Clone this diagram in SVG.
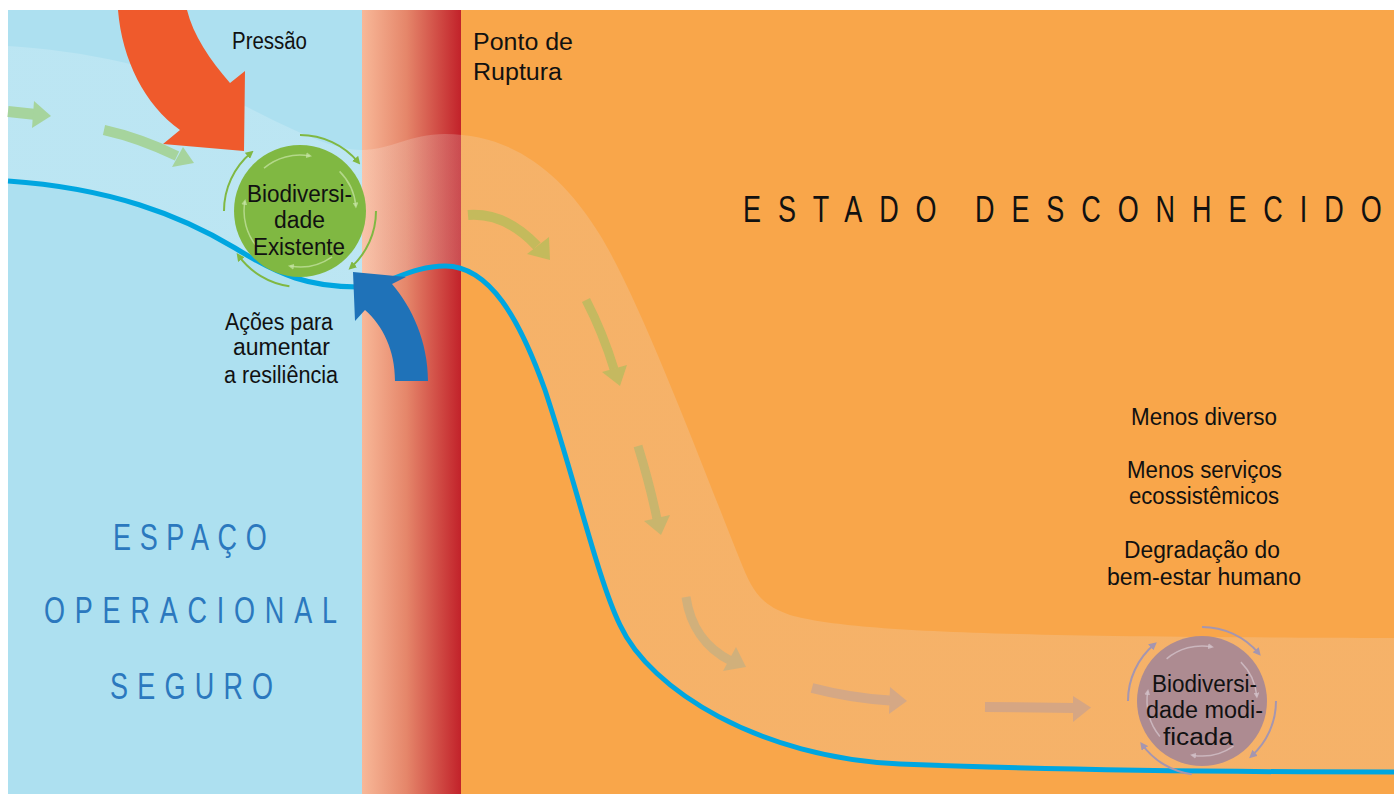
<svg xmlns="http://www.w3.org/2000/svg" width="1394" height="794" viewBox="0 0 1394 794">
<style>
.t{font-family:"Liberation Sans",Arial,sans-serif;font-size:23.5px;fill:#111}
.cap{font-family:"Liberation Sans",Arial,sans-serif;font-size:37.5px}
.bl{fill:#2B78BE}
.og{stroke:#80B842;stroke-width:2;fill:none;marker-end:url(#mg)}
.ig{stroke:#C9E6A8;stroke-opacity:0.7;stroke-width:1.5;fill:none;marker-end:url(#mgi)}
.op{stroke:#A596B0;stroke-width:2;fill:none;marker-end:url(#mp)}
.ip{stroke:#D2C0C8;stroke-opacity:0.8;stroke-width:1.5;fill:none;marker-end:url(#mpi)}
</style>
<defs>
<linearGradient id="red" x1="0" y1="0" x2="1" y2="0">
<stop offset="0" stop-color="#F8B898"/>
<stop offset="0.45" stop-color="#E5866A"/>
<stop offset="1" stop-color="#C2222A"/>
</linearGradient>
<linearGradient id="band" gradientUnits="userSpaceOnUse" x1="362" y1="0" x2="461" y2="0">
<stop offset="0" stop-color="#FFFFFF" stop-opacity="0.18"/>
<stop offset="1" stop-color="#EADDD6" stop-opacity="0.22"/>
</linearGradient>
<marker id="mg" viewBox="0 0 10 10" refX="6" refY="5" markerWidth="8" markerHeight="8" markerUnits="userSpaceOnUse" orient="auto"><path d="M0,0 L10,5 L0,10 z" fill="#80B842"/></marker>
<marker id="mgi" viewBox="0 0 10 10" refX="6" refY="5" markerWidth="6" markerHeight="6" markerUnits="userSpaceOnUse" orient="auto"><path d="M0,0 L10,5 L0,10 z" fill="#C9E6A8" fill-opacity="0.7"/></marker>
<marker id="mp" viewBox="0 0 10 10" refX="6" refY="5" markerWidth="8" markerHeight="8" markerUnits="userSpaceOnUse" orient="auto"><path d="M0,0 L10,5 L0,10 z" fill="#A596B0"/></marker>
<marker id="mpi" viewBox="0 0 10 10" refX="6" refY="5" markerWidth="6" markerHeight="6" markerUnits="userSpaceOnUse" orient="auto"><path d="M0,0 L10,5 L0,10 z" fill="#D2C0C8" fill-opacity="0.8"/></marker>
</defs>

<g id="background">
<rect x="0" y="0" width="1394" height="794" fill="#FFFFFF"/>
<rect x="8" y="10" width="354" height="784" fill="#ADE0F0"/>
<rect x="362" y="10" width="99" height="784" fill="url(#red)"/>
<rect x="461" y="10" width="933" height="784" fill="#F9A64A"/>
<path id="pathway" fill="url(#band)" d="M8,46 C80,50 170,68 233,100 C285,126 330,150 362,150 C390,150 410,134 445,134 C510,134 560,170 600,235 C640,300 700,460 740,560 C752,590 760,605 790,615 C850,632 1000,637 1394,638 L1394,772 C1250,772 1050,770 900,764 C760,758 650,690 620,625 C598,580 575,480 545,390 C520,320 490,266 445,266 C410,266 385,287 358,287 C310,287 280,276 235,248 C180,215 110,188 8,181 Z"/>
</g>

<g id="connectors">
<g id="flow-arrows">
<path d="M8,111.5 L36,114.5" stroke="#A6D49D" stroke-width="11" fill="none"/>
<polygon points="34,101 51,116 32,128" fill="#A6D49D"/>
<path d="M104,130 Q140,138 177,156" stroke="#A6D49D" stroke-width="10" fill="none"/>
<polygon points="183,147 194,163 172,167" fill="#A6D49D"/>
<path d="M468,215 Q505,212 537,246" stroke="#C4BA5C" stroke-width="10" fill="none"/>
<polygon points="527,254 550,260 549,237" fill="#C4BA5C"/>
<path d="M586,300 Q603,333 614,369" stroke="#C5B960" stroke-width="9" fill="none"/>
<polygon points="602,372 620,386 627,365" fill="#C5B960"/>
<path d="M638,446 Q650,485 657,519" stroke="#C9B56D" stroke-width="9" fill="none"/>
<polygon points="644,521 661,535 670,515" fill="#C9B56D"/>
<path d="M686,597 C690,625 705,648 731,661" stroke="#D1B07B" stroke-width="9" fill="none"/>
<polygon points="723,671 746,667 736,647" fill="#D1B07B"/>
<path d="M812,688 Q850,698 890,700.5" stroke="#D5A885" stroke-width="10" fill="none"/>
<polygon points="890,687 907,701 889,714" fill="#D5A885"/>
<path d="M985,707 L1074,708" stroke="#D6A683" stroke-width="10" fill="none"/>
<polygon points="1073,696 1091,707.5 1073,722" fill="#D6A683"/>
</g>
<path id="threshold-line" d="M8,181 C110,188 180,215 235,248 C280,276 310,287 358,287 C385,287 410,266 445,266 C490,266 520,320 545,390 C575,480 598,580 620,625 C650,690 760,758 900,764 C1050,770 1250,772 1394,772" fill="none" stroke="#00A6E0" stroke-width="5"/>
<path id="pressure-arrow" d="M118,10 C122,60 145,105 180,130 L163,144 L244,151 L245,71 L230,83 C210,60 193,35 187,10 Z" fill="#EF5A2C"/>
<path id="resilience-arrow" d="M353,272 L406,277 L392,284 C412,307 428,342 428,381 L395,381 C395,350 383,326 365,310 L355,321 Z" fill="#1F72B8"/>
</g>

<g id="node-existing">
<circle cx="300" cy="211" r="66" fill="#80B842"/>
<path class="og" d="M300,135 A76,76 0 0 1 358.2,162.1"/>
<path class="og" d="M376,211 A76,76 0 0 1 350.9,267.5"/>
<path class="og" d="M289.4,286.3 A76,76 0 0 1 238.5,255.7"/>
<path class="og" d="M224,211 A76,76 0 0 1 251.1,152.8"/>
<path class="ig" d="M264,168.1 A56,56 0 0 1 309.7,155.9"/>
<path class="ig" d="M339.6,171.4 A56,56 0 0 1 355.8,206.1"/>
<path class="ig" d="M332.1,256.9 A56,56 0 0 1 290.3,266.1"/>
<path class="ig" d="M257.1,247 A56,56 0 0 1 244.9,201.3"/>
<text class="t" x="247" y="202" textLength="105" lengthAdjust="spacingAndGlyphs">Biodiversi-</text>
<text class="t" x="274" y="228" textLength="51" lengthAdjust="spacingAndGlyphs">dade</text>
<text class="t" x="253" y="255" textLength="92" lengthAdjust="spacingAndGlyphs">Existente</text>
</g>

<g id="node-modified">
<circle cx="1202" cy="701" r="65" fill="#AD8B91"/>
<path class="op" d="M1202,627 A74,74 0 0 1 1258.7,653.4"/>
<path class="op" d="M1276,701 A74,74 0 0 1 1251.5,756"/>
<path class="op" d="M1191.7,774.3 A74,74 0 0 1 1142.1,744.5"/>
<path class="op" d="M1128,701 A74,74 0 0 1 1154.4,644.3"/>
<path class="ip" d="M1166.6,658.9 A55,55 0 0 1 1211.6,646.8"/>
<path class="ip" d="M1240.9,662.1 A55,55 0 0 1 1256.8,696.2"/>
<path class="ip" d="M1233.5,746.1 A55,55 0 0 1 1192.4,755.2"/>
<path class="ip" d="M1159.9,736.4 A55,55 0 0 1 1147.8,691.4"/>
<text class="t" x="1152" y="692" textLength="105" lengthAdjust="spacingAndGlyphs">Biodiversi-</text>
<text class="t" x="1146" y="718" textLength="117" lengthAdjust="spacingAndGlyphs">dade modi-</text>
<text class="t" x="1163" y="745" textLength="70" lengthAdjust="spacingAndGlyphs">ficada</text>
</g>

<g id="labels">
<text class="t" x="232" y="49" textLength="75" lengthAdjust="spacingAndGlyphs">Pressão</text>
<text class="t" x="473" y="50" textLength="100" lengthAdjust="spacingAndGlyphs">Ponto de</text>
<text class="t" x="473" y="80" textLength="89" lengthAdjust="spacingAndGlyphs">Ruptura</text>
<text class="t" x="225" y="330" textLength="108" lengthAdjust="spacingAndGlyphs">Ações para</text>
<text class="t" x="233" y="355" textLength="97" lengthAdjust="spacingAndGlyphs">aumentar</text>
<text class="t" x="224" y="383" textLength="114" lengthAdjust="spacingAndGlyphs">a resiliência</text>
<text class="t" x="1131" y="425" textLength="146" lengthAdjust="spacingAndGlyphs">Menos diverso</text>
<text class="t" x="1127" y="478" textLength="155" lengthAdjust="spacingAndGlyphs">Menos serviços</text>
<text class="t" x="1129" y="504" textLength="150" lengthAdjust="spacingAndGlyphs">ecossistêmicos</text>
<text class="t" x="1124" y="558" textLength="156" lengthAdjust="spacingAndGlyphs">Degradação do</text>
<text class="t" x="1107" y="585" textLength="194" lengthAdjust="spacingAndGlyphs">bem-estar humano</text>
<text class="cap" transform="translate(743,222) scale(0.72,1)" dx="0 23.5 23.5 23.5 23.5 23.5" fill="#111">ESTADO</text>
<text class="cap" transform="translate(975,222) scale(0.72,1)" dx="0 23.5 23.5 23.5 23.5 23.5 23.5 23.5 23.5 23.5 23.5 23.5" fill="#111">DESCONHECIDO</text>
<text class="cap bl" transform="translate(113,550) scale(0.72,1)" dx="0 12 12 12 12 12">ESPAÇO</text>
<text class="cap bl" transform="translate(44,623) scale(0.72,1)" dx="0 13.6 13.6 13.6 13.6 13.6 13.6 13.6 13.6 13.6 13.6">OPERACIONAL</text>
<text class="cap bl" transform="translate(110,699) scale(0.72,1)" dx="0 12.8 12.8 12.8 12.8 12.8">SEGURO</text>
</g>
</svg>
